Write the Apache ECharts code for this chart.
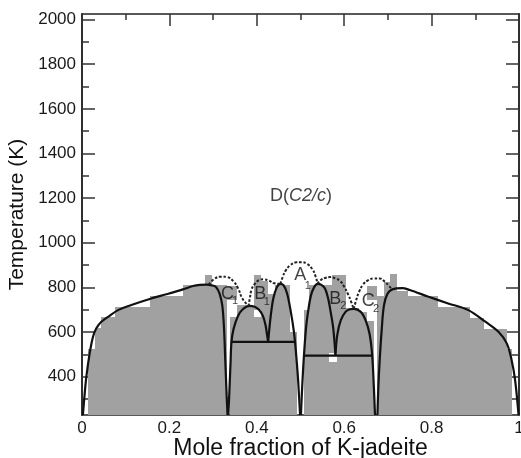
<!DOCTYPE html>
<html><head><meta charset="utf-8">
<script src="https://cdn.jsdelivr.net/npm/echarts@6/dist/echarts.min.js"></script>
<style>html,body{margin:0;padding:0;background:#fff}#c{width:521px;height:458px}</style>
</head><body><div id="c"></div>
<script>
const Y_MIN = 228, Y_MAX = 2025;
const xTicks = [0, 0.2, 0.4, 0.6, 0.8, 1];
const yMajor = [400, 600, 800, 1000, 1200, 1400, 1600, 1800, 2000];
const yMinor = [300, 500, 700, 900, 1100, 1300, 1500, 1700, 1900];

// gray simulation cells: [x0, x1, top T]
const grayColumns = [
  [0.014,0.029,525],[0.029,0.044,620],[0.044,0.075,665],[0.075,0.155,713],
  [0.155,0.231,761],[0.231,0.281,810],[0.281,0.297,857],[0.297,0.331,812],
  [0.338,0.354,667],[0.354,0.377,719],[0.377,0.393,716],[0.393,0.409,665],
  [0.409,0.425,830],[0.425,0.441,770],[0.441,0.476,812],[0.476,0.4922,600],
  [0.5078,0.52,700],[0.52,0.571,812],[0.571,0.603,855],[0.603,0.634,706],
  [0.634,0.652,690],[0.652,0.668,650],[0.675,0.690,760],[0.690,0.705,825],
  [0.705,0.721,858],[0.721,0.745,785],[0.745,0.815,761],[0.815,0.888,713],
  [0.888,0.919,662],[0.919,0.972,613],[0.972,0.984,525]
];
// floating gray blocks: [x0, x1, low T, high T]
const grayBlocks = [[0.331,0.354,745,808],[0.393,0.409,700,855],[0.652,0.675,745,805]];
// white holes: [x0, x1, low T, high T]
const whiteHoles = [[0.566,0.584,466,505]];

// phase boundaries (solid)
const leftD = [[0.002,228],[0.006,320],[0.010,400],[0.0176,505],[0.0252,579],[0.0328,617],[0.0443,646],[0.0596,668],[0.0825,698],[0.113,721],[0.155,748],[0.193,769],[0.231,791],[0.254,806],[0.27,811],[0.285,812],[0.297,809],[0.307,801],[0.315,771],[0.321,719],[0.325,615],[0.328,466],[0.331,317],[0.333,228]];
const domeB1 = [[0.335,228],[0.3375,346],[0.34,466],[0.342,555],[0.347,615],[0.357,672],[0.368,702],[0.383,717],[0.395,713],[0.405,700],[0.414,672],[0.42,630],[0.424,580],[0.426,556]];
const domeA1L = [[0.426,556],[0.429,620],[0.433,690],[0.438,752],[0.446,801],[0.454,816],[0.461,810],[0.469,775],[0.477,700],[0.485,600],[0.49,500],[0.494,400],[0.497,300],[0.499,228]];
const domeA1R = [[0.501,228],[0.503,317],[0.507,466],[0.5125,615],[0.518,700],[0.524,764],[0.531,800],[0.539,816],[0.547,812],[0.556,795],[0.563,752],[0.569,690],[0.575,615],[0.58,496]];
const domeB2 = [[0.58,496],[0.584,585],[0.592,652],[0.603,690],[0.613,702],[0.622,704],[0.638,690],[0.649,652],[0.658,592],[0.664,496],[0.668,346],[0.6705,228]];
const rightD = [[0.676,228],[0.678,346],[0.681,466],[0.686,615],[0.691,719],[0.699,771],[0.710,791],[0.733,797],[0.75,788],[0.793,758],[0.838,728],[0.884,698],[0.923,646],[0.953,601],[0.972,549],[0.983,475],[0.991,385],[0.999,228]];
const tieB = [[0.342,556],[0.487,556]];
const tieA = [[0.507,494],[0.666,494]];
// metastable (dotted)
const dotC1 = [[0.29,812],[0.303,838],[0.318,848],[0.333,846],[0.347,826],[0.357,796],[0.367,750],[0.381,716]];
const dotB1 = [[0.381,716],[0.384,750],[0.388,790],[0.395,815],[0.405,832],[0.416,836],[0.428,830],[0.44,818],[0.452,816]];
const dotA = [[0.454,816],[0.459,845],[0.466,875],[0.476,898],[0.49,912],[0.501,913],[0.515,905],[0.527,882],[0.534,852],[0.539,818]];
const dotB2 = [[0.539,816],[0.546,832],[0.556,842],[0.568,846],[0.58,840],[0.591,828],[0.6,803],[0.609,768],[0.616,735],[0.621,706]];
const dotC2 = [[0.622,704],[0.627,740],[0.634,780],[0.643,812],[0.655,832],[0.668,840],[0.681,840],[0.693,825],[0.703,805],[0.71,791]];

const letterLabels = [
  {value:[0.333,770], name:'C'}, {value:[0.408,770], name:'B'}, {value:[0.4994,855], name:'A'},
  {value:[0.5796,748], name:'B'}, {value:[0.655,739], name:'C'}
];
const subLabels = [
  {value:[0.3505,739], name:'1'}, {value:[0.423,734], name:'1'}, {value:[0.517,806], name:'1'},
  {value:[0.598,716], name:'2'}, {value:[0.673,703], name:'2'}
];
const phaseLabel = [{value:[0.501,1208], name:'D'}];

const FONT = 'Liberation Sans, Arial, Helvetica, sans-serif';
function rectItem(fill){
  return function(params, api){
    const p0 = api.coord([api.value(0), api.value(2)]);
    const p1 = api.coord([api.value(1), api.value(3)]);
    const x0 = Math.round(p0[0]), x1 = Math.round(p1[0]);
    const y0 = Math.round(p0[1]), y1 = Math.round(p1[1]);
    return {type:'rect', shape:{x:x0, y:y1, width:x1-x0, height:y0-y1}, style:{fill:fill}};
  };
}
function solid(d){return {type:'line', data:d, showSymbol:false, smooth:0.35, z:5, lineStyle:{color:'#111', width:2.2}, silent:true};}
function dotted(d){return {type:'line', data:d, showSymbol:false, smooth:0.45, z:5, lineStyle:{color:'#222', width:2, type:[2.6,1.8]}, silent:true};}
function yAx(pos, vals, len, labels){
  return {type:'value', position:pos, min:Y_MIN, max:Y_MAX,
    axisLine:{show:true, lineStyle:{color:'#222', width:1.5}},
    axisTick:{show:true, inside:true, length:len, customValues:vals, lineStyle:{color:'#333', width:1.5}},
    axisLabel:labels ? {show:true, customValues:yMajor, fontSize:17, color:'#1a1a1a', fontFamily:FONT, margin:6, formatter:function(v){return String(Math.round(v));}} : {show:false},
    splitLine:{show:false}, minorTick:{show:false}};
}
const chart = echarts.init(document.getElementById('c'));
chart.setOption({
  animation:false,
  grid:{left:82, right:2, top:14, bottom:43, containLabel:false, outerBoundsMode:'none'},
  xAxis:[
    {type:'value', position:'bottom', min:0, max:1, interval:0.2,
     name:'Mole fraction of K-jadeite', nameLocation:'middle', nameGap:22, nameMoveOverlap:false,
     nameTextStyle:{fontSize:23, color:'#111', fontFamily:FONT},
     axisLine:{lineStyle:{color:'#222', width:1.5}},
     axisTick:{inside:true, length:11, lineStyle:{color:'#333', width:1.5}},
     minorTick:{show:true, splitNumber:2, length:5, lineStyle:{color:'#333', width:1.5}},
     axisLabel:{fontSize:17, color:'#1a1a1a', fontFamily:FONT, margin:5, formatter:function(v){return String(Math.round(v*10)/10);}},
     splitLine:{show:false}},
    {type:'value', position:'top', min:0, max:1, interval:0.2,
     axisLine:{lineStyle:{color:'#222', width:1.5}},
     axisTick:{inside:true, length:12, lineStyle:{color:'#333', width:1.5}},
     minorTick:{show:true, splitNumber:2, length:6, lineStyle:{color:'#333', width:1.5}},
     axisLabel:{show:false}, splitLine:{show:false}}
  ],
  yAxis:[
    Object.assign(yAx('left', yMajor, 13, true), {name:'Temperature (K)', nameLocation:'middle', nameGap:54, nameTextStyle:{fontSize:21, color:'#111', fontFamily:FONT}}),
    yAx('left', yMinor, 7, false),
    yAx('right', yMajor, 13, false),
    yAx('right', yMinor, 7, false)
  ],
  series:[
    {type:'custom', renderItem:rectItem('#a1a1a1'), data:grayColumns.map(c=>[c[0],c[1],Y_MIN,c[2]]), encode:{x:[0,1], y:[2,3]}, z:1, silent:true},
    {type:'custom', renderItem:rectItem('#a1a1a1'), data:grayBlocks, encode:{x:[0,1], y:[2,3]}, z:1, silent:true},
    {type:'custom', renderItem:rectItem('#ffffff'), data:whiteHoles, encode:{x:[0,1], y:[2,3]}, z:2, silent:true},
    solid(leftD), solid(domeB1), solid(domeA1L), solid(domeA1R), solid(domeB2), solid(rightD),
    Object.assign(solid(tieB), {smooth:false}), Object.assign(solid(tieA), {smooth:false}),
    dotted(dotC1), dotted(dotB1), dotted(dotA), dotted(dotB2), dotted(dotC2),
    {type:'scatter', data:letterLabels, symbolSize:1, itemStyle:{color:'transparent'}, z:10, silent:true,
     label:{show:true, position:'inside', formatter:'{b}', fontSize:18, color:'#111', fontFamily:FONT}},
    {type:'scatter', data:subLabels, symbolSize:1, itemStyle:{color:'transparent'}, z:10, silent:true,
     label:{show:true, position:'inside', formatter:'{b}', fontSize:11, color:'#111', fontFamily:FONT}},
    {type:'scatter', data:phaseLabel, symbolSize:1, itemStyle:{color:'transparent'}, z:10, silent:true,
     label:{show:true, position:'inside', formatter:'{n|D(}{i|C2/c}{n|)}',
       rich:{n:{fontSize:18, color:'#111', fontFamily:FONT}, i:{fontSize:18, color:'#111', fontFamily:FONT, fontStyle:'italic'}}}}
  ]
});
</script></body></html>
